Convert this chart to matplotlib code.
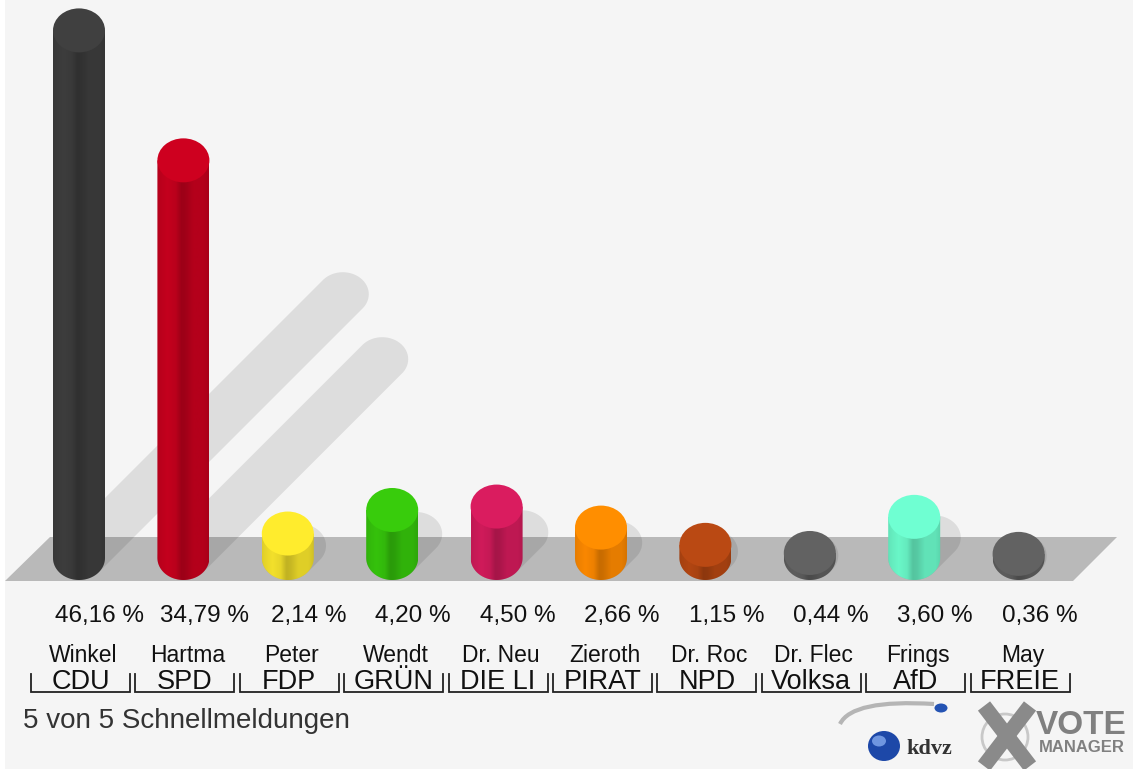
import numpy as np
import matplotlib
matplotlib.use("Agg")
import matplotlib.pyplot as plt
from matplotlib.patches import Ellipse, Polygon, PathPatch, Rectangle
from matplotlib.path import Path
from matplotlib.colors import to_rgb
from matplotlib.lines import Line2D

plt.rcParams['font.family'] = ['Liberation Sans', 'DejaVu Sans']

# ---------------- data ----------------
candidates = ["Winkel", "Hartma", "Peter", "Wendt", "Dr. Neu", "Zieroth",
              "Dr. Roc", "Dr. Flec", "Frings", "May"]
parties = ["CDU", "SPD", "FDP", "GRÜN", "DIE LI", "PIRAT", "NPD",
           "Volksa", "AfD", "FREIE"]
values = [46.16, 34.79, 2.14, 4.20, 4.50, 2.66, 1.15, 0.44, 3.60, 0.36]
colors = ["#3e3e3e", "#c8001e", "#f8e52c", "#36c60c", "#d41b5c",
          "#ff8a00", "#b54712", "#5f5f5f", "#6cfccc", "#5f5f5f"]
footer = "5 von 5 Schnellmeldungen"

# ---------------- layout helpers (pixel -> data) ----------------
W, H = 1133, 769
X0, PX_IDX = 79.0, 104.4        # pixel x of first bar, pixel spacing
BASE, PX_PCT = 558.0, 11.43     # pixel y of value 0, pixels per percent


def px2x(px):
    return (px - X0) / PX_IDX


def px2y(py):
    return (BASE - py) / PX_PCT


RX = 26.0 / PX_IDX       # cylinder half width (data units)
RY = 22.0 / PX_PCT       # ellipse half height (data units)
SH_K = 0.5               # shadow projection factor

fig = plt.figure(figsize=(W / 100, H / 100), dpi=100)
fig.patch.set_facecolor("#f5f5f5")
ax = fig.add_axes([0, 0, 1, 1])
ax.set_facecolor("#f5f5f5")
ax.axis("off")

# white strip at left edge
fig.patches.append(Rectangle((0, 0), 5 / W, 1, transform=fig.transFigure,
                             facecolor="white", edgecolor="none", zorder=0))

# floor
floor_px = [(5, 581), (1073, 581), (1117, 537), (50, 537)]
ax.add_patch(Polygon([(px2x(a), px2y(b)) for a, b in floor_px], closed=True,
                     facecolor="#b9b9b9", edgecolor="none", zorder=1))


def ellipse_pts(cx, cy, n=60):
    t = np.linspace(0, 2 * np.pi, n, endpoint=False)
    return np.column_stack([cx + RX * np.cos(t), cy + RY * np.sin(t)])


def hull(points):
    pts = sorted(map(tuple, points))
    def cross(o, a, b):
        return (a[0] - o[0]) * (b[1] - o[1]) - (a[1] - o[1]) * (b[0] - o[0])
    lower, upper = [], []
    for p in pts:
        while len(lower) >= 2 and cross(lower[-2], lower[-1], p) <= 0:
            lower.pop()
        lower.append(p)
    for p in reversed(pts):
        while len(upper) >= 2 and cross(upper[-2], upper[-1], p) <= 0:
            upper.pop()
        upper.append(p)
    return lower[:-1] + upper[:-1]


# shadows
for i, v in enumerate(values):
    dx = SH_K * v * PX_PCT / PX_IDX
    dy = SH_K * v
    pts = np.vstack([ellipse_pts(i, 0), ellipse_pts(i + dx, dy)])
    ax.add_patch(Polygon(hull(pts), closed=True, facecolor="black",
                         alpha=0.095, edgecolor="none", zorder=2))

# shading profile across cylinder body
prof_u = [0.0, 0.06, 0.2, 0.36, 0.47, 0.55, 0.7, 0.9, 1.0]
prof_f = [0.90, 0.93, 0.98, 0.93, 0.78, 0.80, 0.90, 0.90, 0.84]
u = np.linspace(0, 1, 120)
prof = np.interp(u, prof_u, prof_f)

for i, (v, c) in enumerate(zip(values, colors)):
    base = np.array(to_rgb(c))
    x0, x1 = i - RX, i + RX
    top = v
    # body outline: rectangle + lower half ellipse
    t = np.linspace(np.pi, 2 * np.pi, 50)
    verts = [(x0, top)] + [(i + RX * np.cos(tt), 0 + RY * np.sin(tt)) for tt in t] + [(x1, top), (x0, top)]
    codes = [Path.MOVETO] + [Path.LINETO] * (len(verts) - 2) + [Path.CLOSEPOLY]
    body = PathPatch(Path(verts, codes), transform=ax.transData,
                     facecolor="none", edgecolor="none")
    ax.add_patch(body)
    img = np.clip(prof[None, :, None] * base[None, None, :], 0, 1)
    im = ax.imshow(img, extent=[x0, x1, -RY, top], aspect="auto",
                   interpolation="bilinear", zorder=3 + i * 0.01)
    im.set_clip_path(body)
    topc = np.clip(base * 1.03, 0, 1)
    ax.add_patch(Ellipse((i, top), 2 * RX, 2 * RY, facecolor=topc,
                         edgecolor="none", zorder=3.005 + i * 0.01))

# labels
for i, (v, n, p) in enumerate(zip(values, candidates, parties)):
    lab = f"{v:.2f}".replace(".", ",") + " %"
    ax.text(i + 21 / PX_IDX, px2y(622), lab, ha="center",
            va="baseline", fontsize=17.5, color="#111111", zorder=5)
    ax.text(i + 4 / PX_IDX, px2y(662), n, ha="center", va="baseline",
            fontsize=16.5, color="#111111", zorder=5)
    ax.text(i + 1.5 / PX_IDX, px2y(689), p, ha="center", va="baseline",
            fontsize=19.5, color="#111111", zorder=5)
    bl = i + (1.5 - 49.5) / PX_IDX
    br = i + (1.5 + 49.5) / PX_IDX
    ax.add_line(Line2D([bl, bl, br, br], [px2y(674), px2y(692), px2y(692), px2y(674)],
                       color="#222222", lw=1.3, zorder=5, solid_joinstyle="miter"))

ax.text(px2x(23), px2y(728), footer, ha="left", va="baseline",
        fontsize=20, color="#333333", zorder=5)

# ---- logos (bottom right) ----
sw = Path([(px2x(840), px2y(724)), (px2x(852), px2y(699)), (px2x(934), px2y(704))],
          [Path.MOVETO, Path.CURVE3, Path.CURVE3])
ax.add_patch(PathPatch(sw, facecolor="none", edgecolor="#b5b5b5", lw=3, zorder=5))
ax.add_patch(Ellipse((px2x(884), px2y(746)), 32 / PX_IDX, 30 / PX_PCT,
                     facecolor="#1d48a8", edgecolor="none", zorder=5))
ax.add_patch(Ellipse((px2x(879), px2y(741)), 14 / PX_IDX, 11 / PX_PCT,
                     facecolor="#6f96e0", edgecolor="none", zorder=5.1))
ax.add_patch(Ellipse((px2x(941), px2y(708)), 13 / PX_IDX, 9 / PX_PCT, angle=0,
                     facecolor="#2453b3", edgecolor="none", zorder=5))
ax.text(px2x(906), px2y(754), "kdvz", ha="left", va="baseline", fontsize=16,
        fontweight="bold", family=["Liberation Serif", "DejaVu Serif"],
        color="#333333", zorder=5)
ax.add_patch(Ellipse((px2x(1005), px2y(737)), 46 / PX_IDX, 46 / PX_PCT,
                     facecolor="none", edgecolor="#c8c8c8", lw=2, zorder=5))
ax.add_line(Line2D([px2x(984), px2x(1030)], [px2y(706), px2y(766)],
                   color="#8a8a8a", lw=11, zorder=5.2, solid_capstyle="butt"))
ax.add_line(Line2D([px2x(1030), px2x(984)], [px2y(706), px2y(766)],
                   color="#8a8a8a", lw=11, zorder=5.2, solid_capstyle="butt"))
ax.text(px2x(1036), px2y(734), "VOTE", ha="left", va="baseline", fontsize=24,
        fontweight="bold", color="#808080", zorder=5)
ax.text(px2x(1039), px2y(752), "MANAGER", ha="left", va="baseline", fontsize=12,
        fontweight="bold", color="#808080", zorder=5)

ax.set_xlim(px2x(0), px2x(W))
ax.set_ylim(px2y(H), px2y(0))

fig.savefig("out.png", dpi=100, facecolor=fig.get_facecolor())
